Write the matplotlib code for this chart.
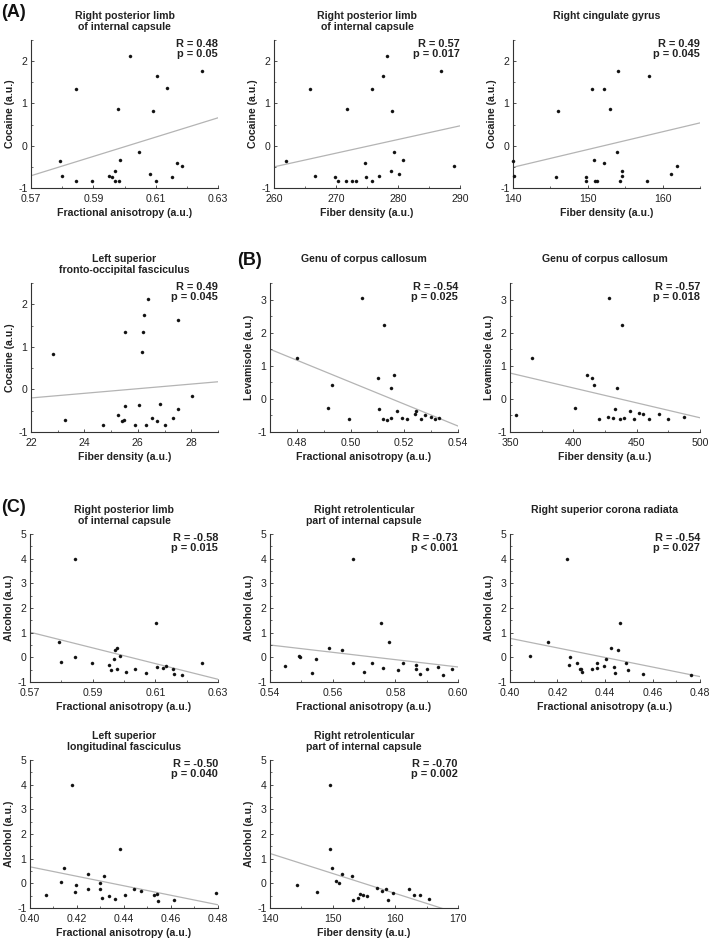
import matplotlib
matplotlib.use("Agg")
import matplotlib.pyplot as plt
from matplotlib.ticker import AutoMinorLocator, FormatStrFormatter
import numpy as np

plt.rcParams['font.family'] = ['Liberation Sans', 'DejaVu Sans']
plt.rcParams['axes.unicode_minus'] = False

# ---------------- data ----------------
# (A) cocaine
a1_x = [0.5793, 0.5799, 0.5844, 0.5844, 0.5897, 0.5950, 0.5960, 0.5969, 0.5971, 0.5979, 0.5983, 0.5987,
        0.6017, 0.6045, 0.6081, 0.6093, 0.6102, 0.6104, 0.6136, 0.6153, 0.6170, 0.6186, 0.6249]
a1_y = [-0.36, -0.71, 1.34, -0.83, -0.83, -0.71, -0.75, -0.59, -0.83, 0.87, -0.83, -0.34,
        2.12, -0.16, -0.66, 0.83, -0.83, 1.64, 1.36, -0.74, -0.40, -0.47, 1.76]

a2_x = [261.97, 265.8, 266.55, 269.86, 270.4, 271.6, 271.8, 272.65, 273.3, 274.65, 274.76, 275.8,
        275.8, 276.9, 277.5, 278.2, 278.9, 279.0, 279.4, 280.1, 280.8, 287.0, 289.1]
a2_y = [-0.36, 1.34, -0.71, -0.75, -0.83, -0.83, 0.87, -0.83, -0.83, -0.40, -0.74, 1.35,
        -0.83, -0.71, 1.64, 2.12, -0.59, 0.83, -0.16, -0.66, -0.34, 1.76, -0.47]

a3_x = [140.0, 140.2, 145.7, 146.0, 149.8, 149.8, 150.5, 150.8, 151.0, 151.2, 152.1, 152.1,
        153.0, 153.9, 154.1, 154.3, 154.6, 154.6, 157.9, 158.2, 161.1, 161.9]
a3_y = [-0.36, -0.71, -0.75, 0.83, -0.73, -0.83, 1.34, -0.34, -0.83, -0.83, 1.35, -0.40,
        0.87, -0.16, 1.76, -0.83, -0.59, -0.71, -0.83, 1.64, -0.66, -0.47]

a4_x = [22.84, 25.51, 26.39, 26.24, 26.20, 26.14, 27.50, 28.04, 25.52, 26.03, 26.82, 27.49,
        25.24, 25.49, 26.53, 27.32, 23.26, 24.70, 25.40, 25.90, 26.30, 26.70, 27.00]
a4_y = [0.83, 1.34, 2.12, 1.76, 1.35, 0.87, 1.64, -0.16, -0.40, -0.36, -0.34, -0.47,
        -0.59, -0.71, -0.66, -0.66, -0.71, -0.83, -0.75, -0.83, -0.83, -0.74, -0.83]

# (B) levamisole
b1_x = [0.4799, 0.4932, 0.5041, 0.5123, 0.5103, 0.5160, 0.5150, 0.4917, 0.4995, 0.5107, 0.5119, 0.5135,
        0.5152, 0.5174, 0.5190, 0.5210, 0.5241, 0.5245, 0.5262, 0.5278, 0.5300, 0.5315, 0.5330]
b1_y = [1.25, 0.41, 3.05, 2.23, 0.63, 0.71, 0.33, -0.27, -0.62, -0.30, -0.60, -0.65,
        -0.58, -0.38, -0.57, -0.62, -0.45, -0.38, -0.60, -0.50, -0.55, -0.62, -0.58]

b2_x = [367.4, 428.4, 438.2, 410.6, 414.8, 416.6, 434.3, 355.0, 401.0, 420.0, 427.0, 431.0,
        433.0, 437.0, 440.0, 445.0, 448.0, 452.0, 455.0, 460.0, 468.0, 475.0, 487.0]
b2_y = [1.25, 3.05, 2.23, 0.71, 0.63, 0.41, 0.33, -0.50, -0.27, -0.62, -0.55, -0.58,
        -0.30, -0.62, -0.57, -0.38, -0.62, -0.42, -0.45, -0.60, -0.45, -0.62, -0.55]

# (C) alcohol
c1_x = [0.5794, 0.5800, 0.5844, 0.5844, 0.5897, 0.5951, 0.5968, 0.5971, 0.5979, 0.5988, 0.6101, 0.6104,
        0.6135, 0.6155, 0.6248, 0.5958, 0.5978, 0.6005, 0.6035, 0.6070, 0.6125, 0.6160, 0.6185]
c1_y = [0.63, -0.19, 3.99, 0.03, -0.24, -0.32, -0.07, 0.30, 0.36, 0.07, 1.40, -0.40,
        -0.34, -0.47, -0.24, -0.51, -0.47, -0.58, -0.47, -0.64, -0.44, -0.67, -0.71]

c2_x = [0.5448, 0.5493, 0.5496, 0.5547, 0.5589, 0.5631, 0.5666, 0.5666, 0.5725, 0.5753, 0.5760, 0.5779,
        0.5824, 0.5865, 0.5866, 0.5900, 0.5936, 0.5980, 0.5535, 0.5700, 0.5810, 0.5880, 0.5952]
c2_y = [-0.34, 0.07, 0.03, -0.07, 0.36, 0.30, 3.99, -0.21, -0.24, 1.40, -0.44, 0.63,
        -0.24, -0.47, -0.32, -0.47, -0.40, -0.47, -0.64, -0.58, -0.51, -0.67, -0.71]

c3_x = [0.4084, 0.4161, 0.4240, 0.4247, 0.4253, 0.4282, 0.4295, 0.4300, 0.4347, 0.4366, 0.4368, 0.4396,
        0.4406, 0.4425, 0.4436, 0.4453, 0.4463, 0.4487, 0.4305, 0.4440, 0.4495, 0.4560, 0.4760]
c3_y = [0.07, 0.63, 3.99, -0.32, 0.03, -0.21, -0.47, -0.47, -0.47, -0.24, -0.44, -0.34,
        -0.07, 0.36, -0.40, 0.30, 1.40, -0.24, -0.58, -0.64, -0.51, -0.67, -0.71]

c4_x = [0.4067, 0.4133, 0.4146, 0.4177, 0.4191, 0.4195, 0.4248, 0.4248, 0.4297, 0.4297, 0.4307, 0.4313,
        0.4336, 0.4361, 0.4385, 0.4404, 0.4443, 0.4472, 0.4528, 0.4542, 0.4545, 0.4612, 0.4790]
c4_y = [-0.47, 0.07, 0.63, 3.99, -0.34, -0.07, 0.36, -0.24, 0.03, -0.21, -0.58, 0.30,
        -0.51, -0.64, 1.40, -0.47, -0.24, -0.32, -0.47, -0.44, -0.71, -0.67, -0.40]

c5_x = [144.26, 147.45, 149.5, 149.5, 149.9, 150.6, 151.0, 151.5, 153.1, 153.3, 154.0, 154.3,
        154.8, 155.5, 157.1, 157.9, 158.5, 158.8, 159.7, 162.2, 162.9, 163.9, 165.4]
c5_y = [-0.07, -0.34, 3.99, 1.40, 0.63, 0.09, 0.03, 0.39, 0.30, -0.68, -0.58, -0.42,
        -0.47, -0.51, -0.20, -0.30, -0.21, -0.67, -0.40, -0.23, -0.46, -0.46, -0.62]

# regression line values at the left / right x-limits
fit_left = [-0.71, -0.50, -0.51, -0.20, 1.50, 0.78, 1.02, 0.50, 0.77, 0.67, 1.21]
fit_right = [0.66, 0.47, 0.54, 0.18, -0.82, -0.57, -0.89, -0.39, -0.78, -0.87, -1.22]

titles = ["Right posterior limb\nof internal capsule", "Right posterior limb\nof internal capsule",
          "Right cingulate gyrus", "Left superior\nfronto-occipital fasciculus",
          "Genu of corpus callosum", "Genu of corpus callosum",
          "Right posterior limb\nof internal capsule", "Right retrolenticular\npart of internal capsule",
          "Right superior corona radiata", "Left superior\nlongitudinal fasciculus",
          "Right retrolenticular\npart of internal capsule"]
stats = ["R = 0.48\np = 0.05", "R = 0.57\np = 0.017", "R = 0.49\np = 0.045", "R = 0.49\np = 0.045",
         "R = -0.54\np = 0.025", "R = -0.57\np = 0.018",
         "R = -0.58\np = 0.015", "R = -0.73\np < 0.001", "R = -0.54\np = 0.027",
         "R = -0.50\np = 0.040", "R = -0.70\np = 0.002"]
FA = "Fractional anisotropy (a.u.)"
FD = "Fiber density (a.u.)"
xlabels = [FA, FD, FD, FD, FA, FD, FA, FA, FA, FA, FD]
ylabels = ["Cocaine (a.u.)"] * 4 + ["Levamisole (a.u.)"] * 2 + ["Alcohol (a.u.)"] * 5
xlims = [(0.57, 0.63), (260, 290), (140, 165), (22, 29), (0.47, 0.54), (350, 500),
         (0.57, 0.63), (0.54, 0.60), (0.40, 0.48), (0.40, 0.48), (140, 170)]
xticks = [[0.57, 0.59, 0.61, 0.63], [260, 270, 280, 290], [140, 150, 160], [22, 24, 26, 28],
          [0.48, 0.50, 0.52, 0.54], [350, 400, 450, 500],
          [0.57, 0.59, 0.61, 0.63], [0.54, 0.56, 0.58, 0.60], [0.40, 0.42, 0.44, 0.46, 0.48],
          [0.40, 0.42, 0.44, 0.46, 0.48], [140, 150, 160, 170]]
ylims = [(-1, 2.5)] * 4 + [(-1, 3.5)] * 2 + [(-1, 5)] * 5
yticks = [[-1, 0, 1, 2]] * 4 + [[-1, 0, 1, 2, 3]] * 2 + [[-1, 0, 1, 2, 3, 4, 5]] * 5

xs = [a1_x, a2_x, a3_x, a4_x, b1_x, b2_x, c1_x, c2_x, c3_x, c4_x, c5_x]
ys = [a1_y, a2_y, a3_y, a4_y, b1_y, b2_y, c1_y, c2_y, c3_y, c4_y, c5_y]

# ---------------- layout (pixels: left, top, width, height) ----------------
W, H = 709, 941
boxes = [(31, 40, 187, 148), (274, 40, 186, 148), (513, 40, 187, 148),
         (31, 283, 187, 149), (270, 283, 188, 149), (510, 283, 190, 149),
         (30, 534, 188, 148), (270, 534, 188, 148), (510, 534, 190, 148),
         (30, 760, 188, 148), (270, 760, 188, 148)]

fig = plt.figure(figsize=(W / 100, H / 100), dpi=100)
fig.patch.set_facecolor('white')

spine_col = '#333333'
for i in range(11):
    l, t, w, h = boxes[i]
    ax = fig.add_axes([l / W, 1 - (t + h) / H, w / W, h / H])
    x0, x1 = xlims[i]
    ax.plot([x0, x1], [fit_left[i], fit_right[i]], color='#b4b4b4', lw=0.9, zorder=1)
    ax.plot(xs[i], ys[i], linestyle='none', marker='o', ms=2.2, mfc='#111111', mec='#111111',
            mew=0.3, zorder=3, clip_on=False)
    ax.set_xlim(x0, x1)
    ax.set_ylim(*ylims[i])
    ax.set_xticks(xticks[i])
    ax.set_yticks(yticks[i])
    if isinstance(xticks[i][0], float):
        ax.xaxis.set_major_formatter(FormatStrFormatter('%.2f'))
    else:
        ax.xaxis.set_major_formatter(FormatStrFormatter('%d'))
    ax.xaxis.set_minor_locator(AutoMinorLocator(2))
    ax.yaxis.set_minor_locator(AutoMinorLocator(2))
    for s in ['top', 'right']:
        ax.spines[s].set_visible(False)
    for s in ['left', 'bottom']:
        ax.spines[s].set_color(spine_col)
        ax.spines[s].set_linewidth(0.8)
    ax.tick_params(which='major', direction='in', length=2.5, width=0.6, colors=spine_col,
                   labelsize=7.6, labelcolor='#222222')
    ax.tick_params(axis='x', which='major', pad=4.2)
    ax.tick_params(axis='y', which='major', pad=2.5)
    ax.tick_params(which='minor', direction='in', length=1.5, width=0.5, colors=spine_col)
    ax.set_xlabel(xlabels[i], fontsize=7.6, fontweight='bold', labelpad=3, color='#222222')
    ax.set_ylabel(ylabels[i], fontsize=7.6, fontweight='bold', labelpad=2.5, color='#222222')
    title = titles[i] if '\n' in titles[i] else titles[i] + '\n '
    ax.set_title(title, fontsize=7.6, fontweight='bold', pad=7, linespacing=1.1, color='#222222')
    ax.text(1.0, 1.01, stats[i], transform=ax.transAxes, ha='right', va='top',
            fontsize=7.9, fontweight='bold', linespacing=1.05, color='#222222')

for lab, px, py in [("(A)", 1, 4), ("(B)", 237, 252), ("(C)", 1, 499)]:
    fig.text(px / W, 1 - py / H, lab, ha='left', va='top', fontsize=13, fontweight='bold',
             color='#111111')

fig.savefig('out.png', dpi=100, facecolor='white')
